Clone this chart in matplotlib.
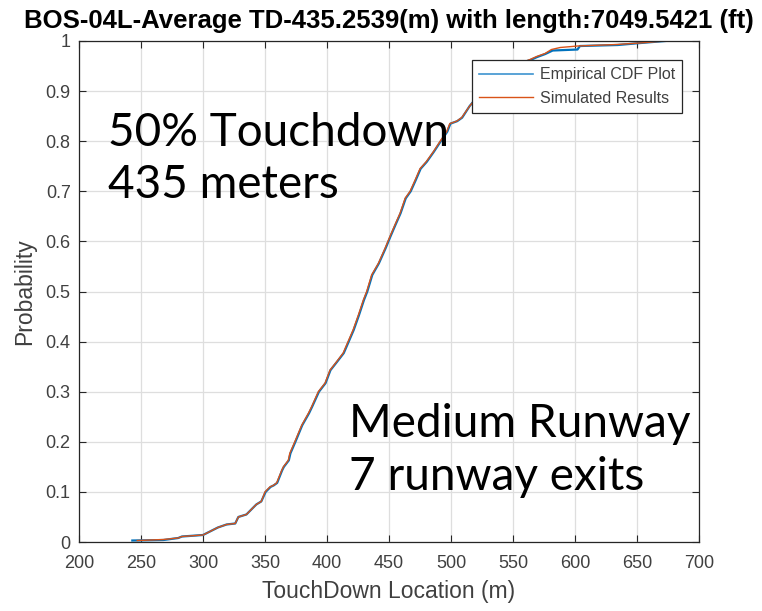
import matplotlib
matplotlib.use("Agg")
import matplotlib.pyplot as plt

# touchdown location (m) and cumulative probability
emp_x = [243, 268, 280, 283, 300, 305.6, 312, 319, 326, 328.5, 335, 343, 347, 350.5,
         354.5, 357, 359.8, 363.8, 365.2, 369.2, 370.5, 374.5, 380, 385.5, 388, 393.5,
         398.8, 402.8, 408.2, 413.5, 417.5, 421.5, 425.8, 429.8, 432.5, 436.5, 441.8,
         447.2, 451.2, 455.2, 459.3, 463.5, 467.5, 471.5, 475.5, 480.5, 486.2, 491.5,
         497, 499.5, 505, 509, 515, 525, 535, 545, 555, 564, 569.5, 576, 582, 602, 604,
         634.5, 653, 672.6]
emp_p = [0.003, 0.004, 0.008, 0.011, 0.014, 0.021, 0.029, 0.035, 0.037, 0.050, 0.055,
         0.075, 0.081, 0.100, 0.110, 0.113, 0.118, 0.143, 0.150, 0.163, 0.177, 0.200,
         0.233, 0.257, 0.270, 0.300, 0.317, 0.343, 0.360, 0.377, 0.400, 0.423, 0.453,
         0.483, 0.500, 0.533, 0.556, 0.586, 0.610, 0.633, 0.656, 0.686, 0.700, 0.722,
         0.745, 0.759, 0.779, 0.799, 0.819, 0.835, 0.840, 0.847, 0.870, 0.900, 0.925,
         0.945, 0.955, 0.962, 0.968, 0.974, 0.981, 0.983, 0.990, 0.992, 0.996, 1.000]

sim_x = [247, 268, 280, 283, 300, 305.6, 312, 319, 326, 328.5, 335, 343, 347, 350,
         354, 356.7, 359.4, 363.5, 364.8, 368.8, 370, 374, 379.6, 385, 387.6, 393,
         398.4, 402.4, 407.8, 413, 417, 421, 425.3, 429.3, 432, 436, 441.4, 446.8,
         450.8, 454.8, 458.9, 463, 467, 471, 475, 480, 485.8, 491, 496.5, 499, 504.6,
         508.6, 515, 525, 535, 545, 555, 563.7, 569, 575.8, 581, 588, 602, 633.6, 652,
         672.6]
sim_p = [0.003, 0.005, 0.008, 0.011, 0.014, 0.021, 0.029, 0.035, 0.037, 0.050, 0.055,
         0.075, 0.081, 0.100, 0.110, 0.113, 0.118, 0.143, 0.150, 0.163, 0.177, 0.200,
         0.233, 0.257, 0.270, 0.300, 0.317, 0.343, 0.360, 0.377, 0.400, 0.423, 0.453,
         0.483, 0.500, 0.533, 0.556, 0.586, 0.610, 0.633, 0.656, 0.686, 0.700, 0.722,
         0.745, 0.759, 0.779, 0.799, 0.819, 0.835, 0.840, 0.847, 0.870, 0.900, 0.925,
         0.945, 0.955, 0.963, 0.969, 0.975, 0.983, 0.987, 0.990, 0.993, 0.996, 1.000]

x_ticks = [200, 250, 300, 350, 400, 450, 500, 550, 600, 650, 700]
y_ticks = [0, 0.1, 0.2, 0.3, 0.4, 0.5, 0.6, 0.7, 0.8, 0.9, 1]
y_tick_labels = ["0", "0.1", "0.2", "0.3", "0.4", "0.5", "0.6", "0.7", "0.8", "0.9", "1"]

axis_col = "#262626"
text_col = "#404040"
plt.rcParams["font.family"] = ["Liberation Sans", "DejaVu Sans"]

fig = plt.figure(figsize=(7.62, 6.11), dpi=100)
ax = fig.add_axes([0.1037, 0.1129, 0.8136, 0.8200])

ax.plot(emp_x, emp_p, color="#0072BD", lw=1.6, label="Empirical CDF Plot")
ax.plot(sim_x, sim_p, color="#D95319", lw=1.0, label="Simulated Results")

ax.set_xlim(200, 700)
ax.set_ylim(0, 1)
ax.set_xticks(x_ticks)
ax.set_yticks(y_ticks)
ax.set_yticklabels(y_tick_labels)
ax.grid(True, color="#dedede", lw=0.9)
ax.set_axisbelow(True)
ax.tick_params(direction="in", length=5, width=0.8, color=axis_col,
               top=True, right=True, labelsize=13, labelcolor=text_col)
ax.tick_params(axis="x", pad=9)
ax.tick_params(axis="y", pad=6)
for s in ax.spines.values():
    s.set_color(axis_col)
    s.set_linewidth(0.9)

ax.set_title("BOS-04L-Average TD-435.2539(m) with length:7049.5421 (ft)",
             fontsize=18.5, fontweight="bold", pad=9, color="black")
ax.set_xlabel("TouchDown Location (m)", fontsize=16.5, color=text_col, labelpad=6)
ax.set_ylabel("Probability", fontsize=16.5, color=text_col, labelpad=7)

leg = ax.legend(loc="upper right", bbox_to_anchor=(0.9726, 0.962), fontsize=11.5,
                handlelength=3.4, frameon=True, fancybox=False, framealpha=1,
                borderpad=0.45, labelspacing=0.55, handletextpad=0.4,
                borderaxespad=0)
leg.get_frame().set_edgecolor(axis_col)
leg.get_frame().set_linewidth(0.9)
leg.get_lines()[0].set_linewidth(1.2)
leg.get_lines()[0].set_color("#3d94d0")
for t in leg.get_texts():
    t.set_color(text_col)

# annotation blocks, placed by baseline in figure pixels
note_font = ["Lato", "DejaVu Sans"]
notes = [("50% Touchdown", 108, 146), ("435 meters", 108, 198),
         ("Medium Runway", 349, 437), ("7 runway exits", 349, 490)]
for txt, px, py in notes:
    fig.text(px / 762, 1 - py / 611, txt, fontsize=33, family=note_font,
             color="black", va="baseline")

fig.savefig("out.png", dpi=100)
